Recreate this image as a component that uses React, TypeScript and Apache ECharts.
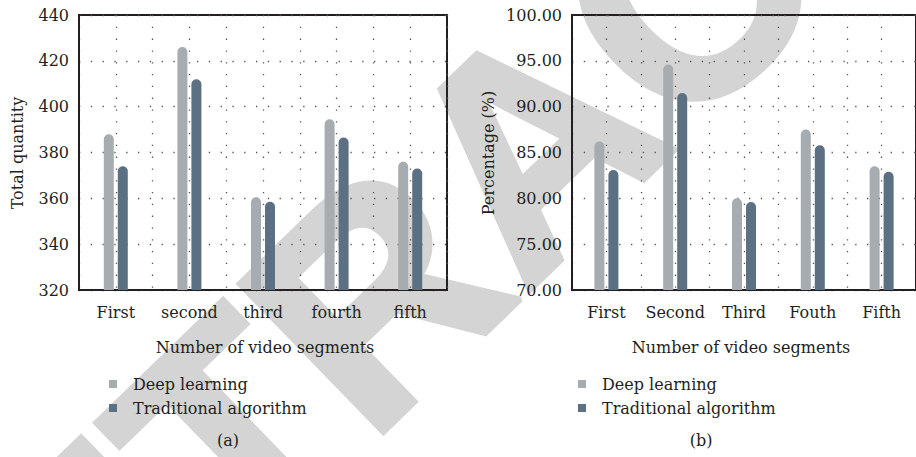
import React, { useEffect, useRef } from "react";
import * as echarts from "echarts";

const categoriesA = ["First", "second", "third", "fourth", "fifth"];
const categoriesB = ["First", "Second", "Third", "Fouth", "Fifth"];
const seriesNames = ["Deep learning", "Traditional algorithm"];
const deepA = [388, 426, 360.5, 394.5, 376];
const tradA = [374, 412, 358.5, 386.5, 373];
const deepB = [86.2, 94.6, 80.0, 87.5, 83.5];
const tradB = [83.1, 91.5, 79.6, 85.8, 82.9];

const FONT = "DejaVu Serif";
const TXT = "#231f20";
const GRAY = "#a6acaf";
const SLATE = "#5b7183";

export default function App() {
  const ref = useRef<HTMLDivElement>(null);
  useEffect(() => {
    if (!ref.current) return;
    const chart = echarts.init(ref.current, null, { renderer: "svg" });
    const dotted = { color: "#555", width: 1.3, type: [1.3, 10.5] as any };
    const yAxisBase = (min: number, max: number, interval: number, idx: number, fmt?: (v: number) => string) => ({
      type: "value",
      gridIndex: idx,
      min,
      max,
      interval,
      axisLine: { show: true, lineStyle: { color: TXT, width: 2 } },
      axisTick: { show: false },
      axisLabel: { fontFamily: FONT, fontSize: 16, color: TXT, margin: 10, formatter: fmt },
      splitLine: { show: true, lineStyle: dotted },
    });
    const catAxis = (data: string[], idx: number) => ({
      type: "category",
      gridIndex: idx,
      data,
      axisLine: { show: true, lineStyle: { color: TXT, width: 2 } },
      axisTick: { show: false },
      axisLabel: { fontFamily: FONT, fontSize: 16, color: TXT, margin: 14, interval: 0 },
      splitLine: { show: false },
    });
    const helperAxis = (idx: number) => ({
      type: "value",
      gridIndex: idx,
      min: 0,
      max: 10,
      interval: 1,
      axisLine: { show: false },
      axisTick: { show: false },
      axisLabel: { show: false },
      splitLine: { show: true, lineStyle: dotted },
    });
    const bar = (name: string, data: number[], color: string, xi: number, yi: number) => ({
      type: "bar",
      name,
      data,
      xAxisIndex: xi,
      yAxisIndex: yi,
      barWidth: 10,
      barGap: "40%",
      itemStyle: { color, borderRadius: [5, 5, 0, 0] },
    });
    const legend = (left: number) => ({
      orient: "vertical",
      left,
      top: 371,
      icon: "rect",
      itemWidth: 8,
      itemHeight: 8,
      itemGap: 8,
      data: seriesNames,
      textStyle: { fontFamily: FONT, fontSize: 16, color: TXT, lineHeight: 16, padding: [0, 0, 0, 11] },
    });
    const txt = (text: string, x: number, y: number, rotation = 0) => ({
      type: "text",
      x,
      y,
      rotation,
      style: { text, fontFamily: FONT, fontSize: 16, fill: TXT, textAlign: "center", textVerticalAlign: "middle" },
    });
    chart.setOption({
      animation: false,
      backgroundColor: "#fff",
      grid: [
        { left: 79, top: 15, width: 368, height: 275, show: true, borderColor: TXT, borderWidth: 2, backgroundColor: "transparent" },
        { left: 572, top: 15, width: 354, height: 275, show: true, borderColor: TXT, borderWidth: 2, backgroundColor: "transparent" },
      ],
      xAxis: [catAxis(categoriesA, 0), helperAxis(0), catAxis(categoriesB, 1), helperAxis(1)],
      yAxis: [
        yAxisBase(320, 440, 20, 0),
        yAxisBase(70, 100, 5, 1, (v: number) => v.toFixed(2)),
      ],
      legend: [legend(104), legend(573)],
      series: [
        bar(seriesNames[0], deepA, GRAY, 0, 0),
        bar(seriesNames[1], tradA, SLATE, 0, 0),
        bar(seriesNames[0], deepB, GRAY, 2, 1),
        bar(seriesNames[1], tradB, SLATE, 2, 1),
      ],
      graphic: [
        {
          type: "text",
          x: 530,
          y: 145,
          rotation: 0.77,
          z: -10,
          style: {
            text: "RETRACTED",
            fontFamily: "Liberation Sans",
            fontWeight: "bold",
            fontSize: 300,
            fill: "#d4d4d4",
            stroke: "#d4d4d4",
            lineWidth: 6,
            textAlign: "center",
            textVerticalAlign: "middle",
          },
        },
        txt("Total quantity", 17.5, 153, Math.PI / 2),
        txt("Percentage (%)", 488, 153, Math.PI / 2),
        txt("Number of video segments", 265, 347),
        txt("Number of video segments", 741, 347),
        txt("(a)", 228, 440),
        txt("(b)", 701, 440),
      ],
    });
    return () => chart.dispose();
  }, []);
  return <div ref={ref} style={{ position: "absolute", left: 0, top: 0, width: 916, height: 457 }} />;
}
